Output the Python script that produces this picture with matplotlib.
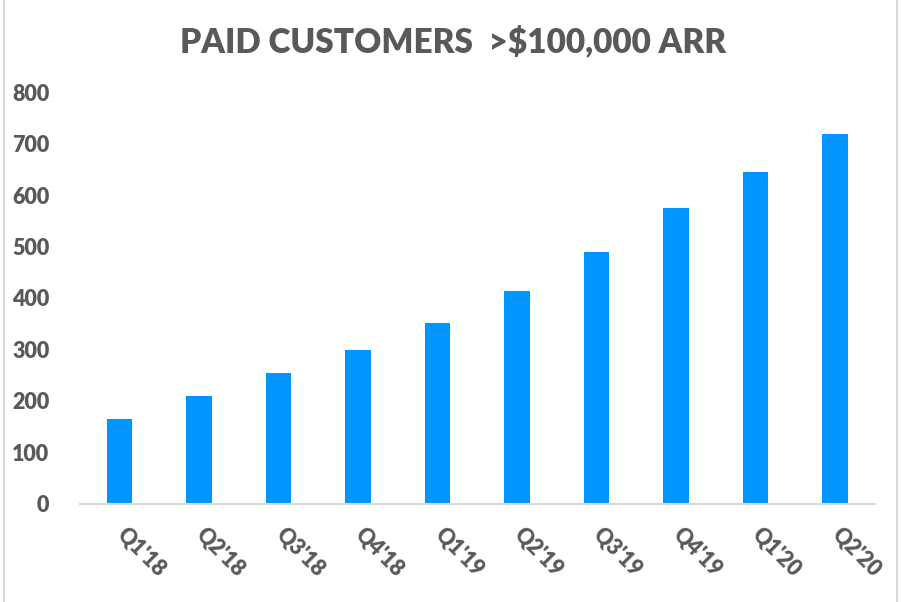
import matplotlib.pyplot as plt
from matplotlib.patches import Rectangle

# Data
quarters = ["Q1'18", "Q2'18", "Q3'18", "Q4'18", "Q1'19",
            "Q2'19", "Q3'19", "Q4'19", "Q1'20", "Q2'20"]
customers = [165, 209, 254, 298, 351, 413, 489, 575, 645, 718]
y_ticks = [0, 100, 200, 300, 400, 500, 600, 700, 800]

text_color = '#595959'
bar_color = '#0096FF'

plt.rcParams['font.family'] = ['Lato', 'DejaVu Sans']

fig = plt.figure(figsize=(9.02, 6.02), dpi=100)
ax = fig.add_axes([0.0887, 0.163, 0.881, 0.684])

x = range(len(quarters))
ax.bar(x, customers, width=0.32, color=bar_color)

ax.set_xlim(-0.5, len(quarters) - 0.5)
ax.set_ylim(0, 800)
ax.set_yticks(y_ticks)
ax.set_yticklabels([str(t) for t in y_ticks], fontsize=15.5, fontweight='heavy', color=text_color)
ax.set_xticks(list(x))
ax.set_xticklabels(quarters, fontsize=15.5, fontweight='heavy', color=text_color,
                   rotation=-45, ha='left', va='center', rotation_mode='anchor')
ax.tick_params(axis='y', length=0, pad=22)
ax.tick_params(axis='x', length=0, pad=20)

for side in ['top', 'right', 'left']:
    ax.spines[side].set_visible(False)
ax.spines['bottom'].set_color('#d9d9d9')
ax.spines['bottom'].set_linewidth(1.5)

fig.text(0.502, 0.93, 'PAID CUSTOMERS  >$100,000 ARR', ha='center', va='center',
         fontsize=24, fontweight='heavy', color=text_color)

# light chart frame
fig.patches.append(Rectangle((0.004, -0.01), 0.99, 1.02, transform=fig.transFigure,
                             fill=False, edgecolor='#d9d9d9', linewidth=1.5))

fig.savefig('out.png', dpi=100)
